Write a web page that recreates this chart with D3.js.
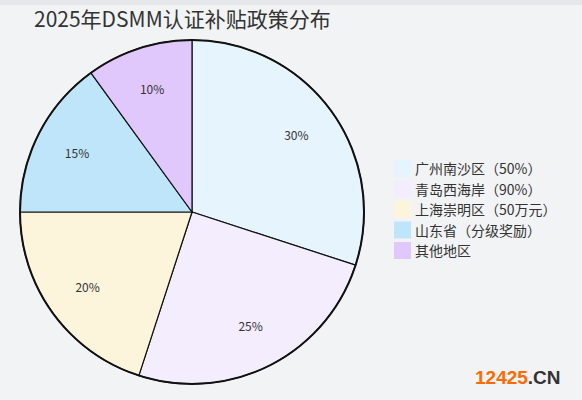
<!DOCTYPE html>
<html><head><meta charset="utf-8">
<script src="https://cdn.jsdelivr.net/npm/d3@7"></script>
<style>body{margin:0;background:#f2f3f5;}svg{display:block;font-family:"Noto Sans CJK SC","Noto Sans",sans-serif;}</style>
</head><body><div id="chart"></div>
<script>
var categories = ["广州南沙区（50%）", "青岛西海岸（90%）", "上海崇明区（50万元）", "山东省（分级奖励）", "其他地区"];
var values = [30, 25, 20, 15, 10];
var colors = ["#e6f4fd", "#f4edfd", "#fcf5db", "#bfe5fb", "#e1c8fc"];

var svg = d3.select("#chart").append("svg").attr("width", 582).attr("height", 400);
svg.append("rect").attr("width", 582).attr("height", 5).attr("fill", "#e6e7ea");

svg.append("text").attr("x", 34).attr("y", 27).attr("font-size", 21).attr("fill", "#333")
  .text("2025年DSMM认证补贴政策分布");

var r = 172;
var g = svg.append("g").attr("transform", "translate(192,212)");
var pie = d3.pie().sort(null)(values);
var arc = d3.arc().innerRadius(0).outerRadius(r);
var labelArc = d3.arc().innerRadius(r * 0.75).outerRadius(r * 0.75);

g.selectAll("path").data(pie).enter().append("path")
  .attr("d", arc).attr("fill", function(d, i) { return colors[i]; })
  .attr("stroke", "#111").attr("stroke-width", 1.2);
g.append("circle").attr("r", r).attr("fill", "none").attr("stroke", "#111").attr("stroke-width", 2);

g.selectAll("text").data(pie).enter().append("text")
  .attr("transform", function(d) { return "translate(" + labelArc.centroid(d) + ")"; })
  .attr("text-anchor", "middle").attr("dy", "0.35em")
  .attr("font-size", 12).attr("fill", "#333")
  .text(function(d) { return d.data + "%"; });

var legend = svg.append("g").attr("transform", "translate(394,160)");
var items = legend.selectAll("g").data(categories).enter().append("g")
  .attr("transform", function(d, i) { return "translate(0," + i * 20.5 + ")"; });
items.append("rect").attr("width", 17).attr("height", 17).attr("fill", function(d, i) { return colors[i]; });
items.append("text").attr("x", 21).attr("y", 14).attr("font-size", 14).attr("fill", "#333").text(function(d) { return d; });

var wm = svg.append("text").attr("x", 475).attr("y", 384).attr("font-size", 19).attr("font-weight", "bold")
  .attr("font-family", "Arial, Liberation Sans, sans-serif");
wm.append("tspan").attr("fill", "#ff6a00").text("12425");
wm.append("tspan").attr("fill", "#333").text(".CN");
</script></body></html>
